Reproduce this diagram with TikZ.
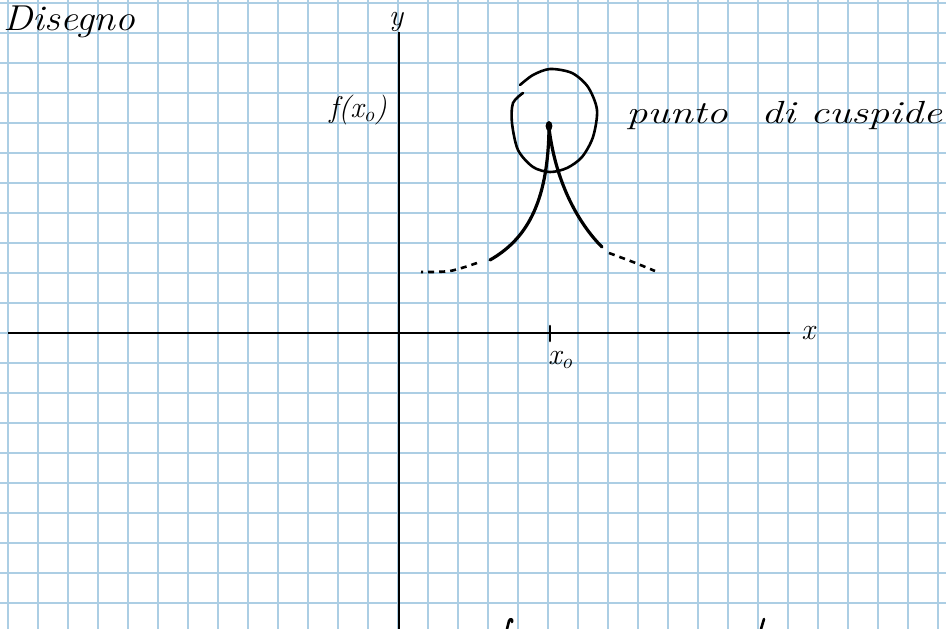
\documentclass[tikz,border=0pt]{standalone}
\usepackage{fontspec}
\begin{document}
\begin{tikzpicture}[x=1pt,y=-1pt,
  gridline/.style={draw=gridblue,line width=1.8pt},
  axisline/.style={draw=black,line width=2pt},
  ink/.style={draw=black,line width=3.2pt,line cap=round,line join=round},
  inkdash/.style={draw=black,line width=2.6pt,dash pattern=on 6pt off 5pt},
  hand/.style={inner sep=0pt,text=black}]
\definecolor{gridblue}{RGB}{172,206,228}
\useasboundingbox (0,0) rectangle (946,629);
\clip (0,0) rectangle (946,629);
\fill[white] (0,0) rectangle (946,629);
% grid
\foreach \i in {0,...,31} \draw[gridline] ({8.3+30*\i},0) -- ({8.3+30*\i},629);
\foreach \j in {0,...,20} \draw[gridline] (0,{3.3+30*\j}) -- (946,{3.3+30*\j});
% axes
\coordinate (xa0) at (8,333.3);
\coordinate (xa1) at (790,333.3);
\coordinate (ya0) at (399,629);
\coordinate (ya1) at (399,32);
\draw[axisline] (xa0) -- (xa1);
\draw[axisline] (ya0) -- (ya1);
\coordinate (t0) at (550,326);
\coordinate (t1) at (550,341);
\draw[ink,line width=2.6pt] (t0) -- (t1);
% labels
\node[hand,font=\fontsize{30}{30}\selectfont\itshape] (ylab) at (396,22) {y};
\node[hand,font=\fontsize{30}{30}\selectfont\itshape] (xlab) at (808,333) {x};
\node[hand,font=\fontsize{30}{30}\selectfont\itshape,anchor=west] (x0lab) at (548,360) {x\textsubscript{o}};
\node[hand,font=\fontsize{30}{30}\selectfont\itshape] (fx0lab) at (358,110) {f(x\textsubscript{o})};
\node[hand,font=\fontsize{36}{36}\selectfont\itshape,anchor=west,xscale=1.1] (title) at (3,22) {Disegno};
\node[hand,font=\fontsize{32}{32}\selectfont\itshape,anchor=west,xscale=1.32] (cusp) at (626,115) {punto\hspace{0.8em}di cuspide};
% cusp curve
\coordinate (c) at (549,126);
\coordinate (cb) at (549,128);
\coordinate (lend) at (490,260);
\coordinate (rend) at (602,247);
\fill[black] (c) ellipse (3.4pt and 5pt);
\draw[ink] (cb) .. controls (548,205) and (525,240) .. (lend);
\draw[ink] (cb) .. controls (556,185) and (580,225) .. (rend);
\draw[inkdash] plot[smooth] coordinates {(477,263) (450,271) (421,272)};
\draw[inkdash] plot[smooth] coordinates {(609,253) (633,262) (655,271)};
% circle
\draw[ink,line width=2.6pt] plot[smooth] coordinates {(520,85) (533,75) (550,69) (572,73) (588,87) (597,110) (593,137) (582,157) (567,168) (550,172) (533,167) (518,150) (512,123) (513,103) (523,93)};
% cut-off letters at the bottom
\draw[ink,line width=2.6pt] (507,629) -- (509,621) .. controls (510,618) and (513,619) .. (512,622);
\draw[ink,line width=2.6pt] (761,629) -- (764,619);
\end{tikzpicture}
\end{document}
